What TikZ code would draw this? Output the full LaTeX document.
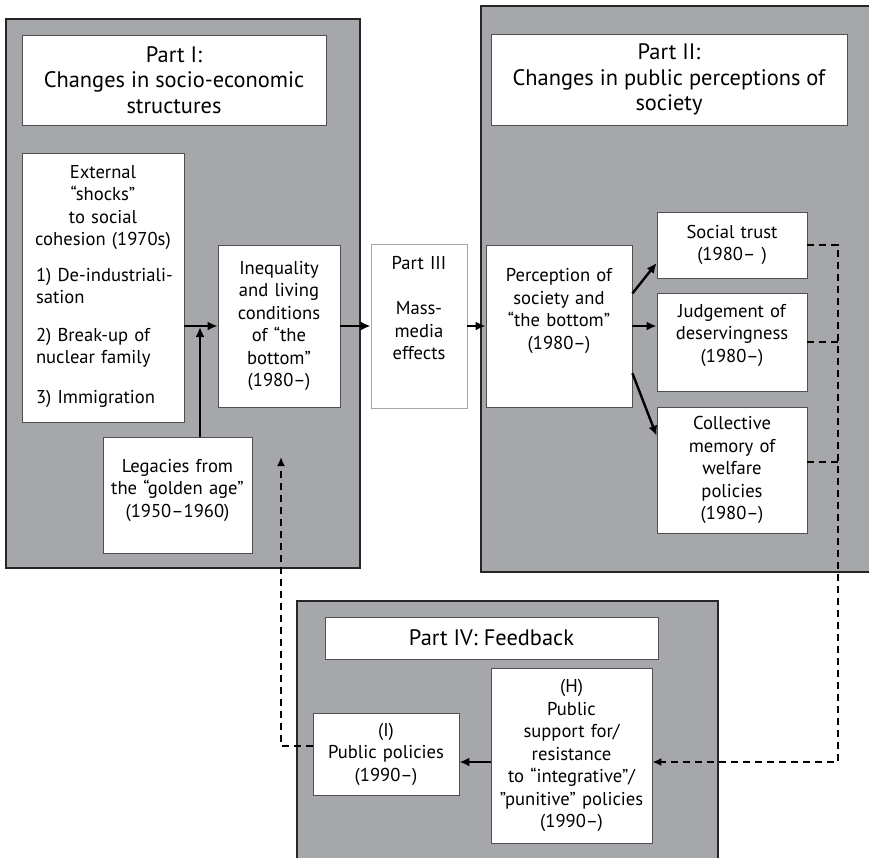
\documentclass[tikz,border=0pt]{standalone}
\usepackage{fontspec}
\setmainfont{PT Sans}
\usetikzlibrary{arrows.meta,calc}
\definecolor{panelgray}{RGB}{166,167,171}
\definecolor{boxline}{RGB}{80,80,80}
\newcommand{\titlesize}{\fontsize{11.2}{12.75}\selectfont}
\newcommand{\boxsize}{\fontsize{9.3}{11.25}\selectfont}

\begin{document}
\begin{tikzpicture}[x=0.5pt,y=-0.5pt,font=\boxsize,
    panel/.style={fill=panelgray,draw=black!85,line width=0.8pt},
    box/.style={draw=boxline,fill=white,line width=0.4pt,align=center,inner sep=0pt},
    link/.style={line width=1.2pt,-{Latex[length=5pt,width=4.5pt]}},
    fback/.style={line width=0.9pt,dash pattern=on 3.5pt off 2.5pt}]
    \useasboundingbox (0,0) rectangle (869,858);

    % panels
    \draw[panel] (6,19) rectangle (360,568);
    \draw[panel] (481,6) rectangle (880,572);
    \draw[panel] (297,601) rectangle (718,880);

    % Part I
    \node[box,minimum width=152pt,minimum height=45pt,font=\titlesize] (t1) at (174,80)
        {Part I:\\Changes in socio-economic\\structures};
    \node[box,text width=81pt,minimum height=134.5pt] (shock) at (103,287.5)
        {External\\“shocks”\\to social\\cohesion (1970s)\\[6.5pt]%
         \makebox[81pt][l]{\begin{tabular}[t]{@{\hspace{7pt}}l@{}}1) De-industriali-\\sation\\[7.5pt]2) Break-up of\\nuclear family\\[8.5pt]3) Immigration\end{tabular}}};
    \node[box,text width=61pt,minimum height=81pt] (ineq) at (279,326)
        {Inequality\\and living\\conditions\\of “the\\bottom”\\(1980–)};
    \node[box,text width=74.5pt,minimum height=58pt] (leg) at (177.5,495)
        {Legacies from\\the “golden age”\\(1950–1960)\\[-4.25pt]\mbox{}};

    % Part III
    \node[box,draw=gray!70,text width=48pt,minimum height=82pt] (p3) at (419,326)
        {Part III\\[11.5pt]Mass-\\media\\effects\\[6.75pt]\mbox{}};

    % Part II
    \node[box,minimum width=178pt,minimum height=45.5pt,font=\titlesize] (t2) at (669,79.5)
        {Part II:\\Changes in public perceptions of\\society};
    \node[box,text width=73pt,minimum height=81pt] (perc) at (559,326)
        {Perception of\\society and\\“the bottom”\\(1980–)\\[6pt]\mbox{}};
    \node[box,text width=75pt,minimum height=33pt] (trust) at (732,245)
        {Social trust\\(1980– )};
    \node[box,text width=75pt,minimum height=49pt] (judge) at (732,342)
        {Judgement of\\deservingness\\(1980–)\\[-2.25pt]\mbox{}};
    \node[box,text width=75pt,minimum height=63pt] (coll) at (732,470)
        {Collective\\memory of\\welfare\\policies\\(1980–)};

    % Part IV
    \node[box,minimum width=166.5pt,minimum height=21pt,font=\titlesize] (t4) at (491.5,638)
        {Part IV: Feedback};
    \node[box,text width=73pt,minimum height=41pt] (pol) at (386,754)
        {(I)\\Public policies\\(1990–)};
    \node[box,text width=80.5pt,minimum height=87.5pt] (supp) at (571.5,755.5)
        {(H)\\Public\\support for/\\resistance\\to “integrative”/\\”punitive” policies\\(1990–)};

    % arrows
    \coordinate (jn) at (200,327);
    \coordinate (fb) at (838,762);
    \coordinate (bk) at (281,457);

    \draw[link] (shock.east |- ineq.west) -- (ineq.west);
    \draw[link] (leg.north -| jn) -- (jn);
    \draw[link] (ineq) -- (p3);
    \draw[link] (p3) -- (perc);
    \draw[link] ($(perc.north east)!0.3!(perc.south east)$) -- ($(trust.north west)!0.77!(trust.south west)$);
    \draw[link] (perc.east) -- (perc.east -| judge.west);
    \draw[link] ($(perc.north east)!0.79!(perc.south east)$) -- ($(coll.north west)!0.23!(coll.south west)$);
    \draw[link] (supp.west |- fb) -- (pol.east |- fb);

    % feedback
    \draw[fback] (judge.east) -- (judge.east -| fb);
    \draw[fback] ([yshift=4pt]coll.east) -- ([yshift=4pt]coll.east -| fb);
    \draw[fback,-{Latex[length=4.5pt,width=4pt]}] (trust.east) -- (trust.east -| fb) -- (fb) -- (supp.east |- fb);
    \draw[fback,-{Latex[length=4.5pt,width=4pt]}] ([yshift=4pt]pol.west) -| (bk);

\end{tikzpicture}
\end{document}
